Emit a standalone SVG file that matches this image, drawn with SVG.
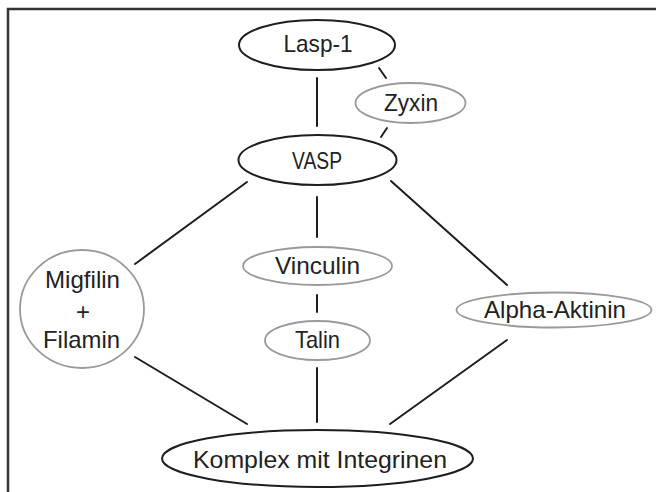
<svg xmlns="http://www.w3.org/2000/svg" width="656" height="492" viewBox="0 0 656 492">
<style>
.main{fill:#fff;stroke:#1e1e1e;stroke-width:2}
.sub{fill:#fff;stroke:#9a9a9a;stroke-width:1.8}
.conn line{stroke:#1e1e1e;stroke-width:2;stroke-linecap:round}
text{font-family:"Liberation Sans",Arial,sans-serif;font-size:24px;fill:#222;text-anchor:middle}
</style>
<rect x="0" y="0" width="656" height="492" fill="#fff"/>
<path d="M8,492 V9 H656" fill="none" stroke="#333" stroke-width="2.5"/>
<g id="connectors" class="conn">
<line x1="317" y1="78" x2="317" y2="126"/>
<line x1="379" y1="68" x2="386" y2="78"/>
<line x1="387" y1="128" x2="381" y2="137"/>
<line x1="247" y1="182" x2="135" y2="264"/>
<line x1="317" y1="197" x2="317" y2="237"/>
<line x1="391" y1="181" x2="507" y2="285"/>
<line x1="317" y1="295" x2="317" y2="312"/>
<line x1="135" y1="357" x2="247" y2="424"/>
<line x1="317" y1="368" x2="317" y2="422"/>
<line x1="507" y1="340" x2="390" y2="424"/>
</g>
<g id="lasp1"><ellipse class="main" cx="317" cy="45" rx="78" ry="25"/><text x="318" y="52" textLength="69" lengthAdjust="spacingAndGlyphs">Lasp-1</text></g>
<g id="zyxin"><ellipse class="sub" cx="410.5" cy="103" rx="55" ry="20"/><text x="411" y="111" textLength="54" lengthAdjust="spacingAndGlyphs">Zyxin</text></g>
<g id="vasp"><ellipse class="main" cx="317.5" cy="160" rx="79" ry="25"/><text x="317" y="169" textLength="50" lengthAdjust="spacingAndGlyphs">VASP</text></g>
<g id="vinculin"><ellipse class="sub" cx="317.5" cy="266" rx="74.5" ry="19"/><text x="317.5" y="274" textLength="85" lengthAdjust="spacingAndGlyphs">Vinculin</text></g>
<g id="talin"><ellipse class="sub" cx="317.5" cy="340.5" rx="52.5" ry="19.5"/><text x="317.5" y="348" textLength="45" lengthAdjust="spacingAndGlyphs">Talin</text></g>
<g id="migfilin"><ellipse class="sub" cx="82" cy="309" rx="62" ry="59"/><text x="82.5" y="288" textLength="75" lengthAdjust="spacingAndGlyphs">Migfilin</text><text x="83" y="320">+</text><text x="81.5" y="348" textLength="77" lengthAdjust="spacingAndGlyphs">Filamin</text></g>
<g id="alpha"><ellipse class="sub" cx="554" cy="310" rx="97.5" ry="17.5"/><text x="555" y="318" textLength="142" lengthAdjust="spacingAndGlyphs">Alpha-Aktinin</text></g>
<g id="komplex"><ellipse class="main" cx="317.5" cy="458.5" rx="155.5" ry="28.5"/><text x="320" y="468" textLength="254" lengthAdjust="spacingAndGlyphs">Komplex mit Integrinen</text></g>
</svg>
